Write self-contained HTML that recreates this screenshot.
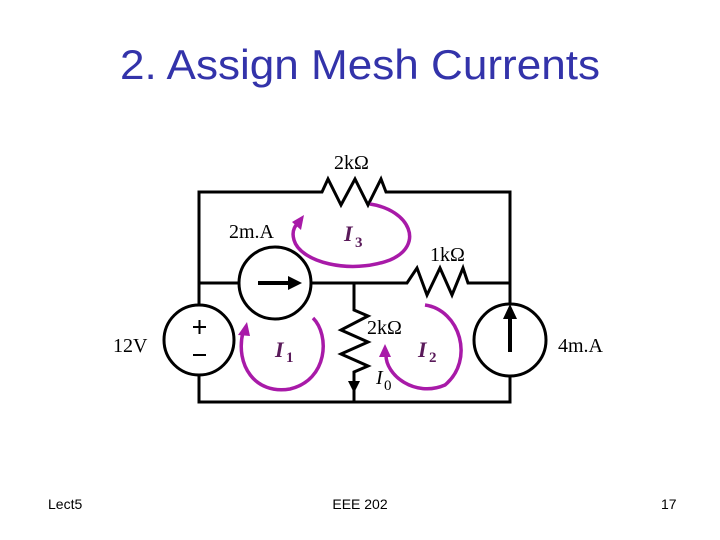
<!DOCTYPE html>
<html><head><meta charset="utf-8"><style>
body{margin:0;background:#fff;}
svg{display:block;}
</style></head><body>
<svg width="720" height="540" xmlns="http://www.w3.org/2000/svg">
<rect width="720" height="540" fill="#fff"/>
<text x="360" y="79" text-anchor="middle" font-family="Liberation Sans, sans-serif" font-size="42" fill="#3333aa" textLength="480" lengthAdjust="spacingAndGlyphs">2. Assign Mesh Currents</text>
<g stroke="#000" stroke-width="3" fill="none" stroke-linejoin="miter">
<polyline points="199,305 199,192 322,192 328,179 341,205 355,179 368,205 381,179 386,192 510,192 510,304"/>
<polyline points="199,283 239,283"/>
<polyline points="311,283 407,283 417,268 427,295 440,268 452,295 463,268 468,283 510,283"/>
<polyline points="354,283 354,310 368,316 341,330 368,342 341,354 368,366 354,372 354,402"/>
<polyline points="199,375 199,402 510,402 510,376"/>
<circle cx="199" cy="340" r="35"/>
<circle cx="275" cy="283" r="36"/>
<circle cx="510" cy="340" r="36"/>
<line x1="258" y1="283" x2="290" y2="283" stroke-width="4"/>
<line x1="510" y1="352" x2="510" y2="318" stroke-width="4"/>
</g>
<polygon points="302,283 288,276 288,290" fill="#000"/>
<polygon points="510,304 503,319 517,319" fill="#000"/>
<polygon points="354,393 348,381 360,381" fill="#000"/>
<line x1="193" y1="327" x2="206" y2="327" stroke="#000" stroke-width="2"/>
<line x1="199.5" y1="320" x2="199.5" y2="334" stroke="#000" stroke-width="2"/>
<line x1="193" y1="355" x2="206" y2="355" stroke="#000" stroke-width="2"/>
<g stroke="#a81aa8" stroke-width="3.5" fill="none">
<path d="M370,204 C410,210 425,245 390,260 C350,275 300,262 294,240 C291,230 296,224 300,222"/>
<path d="M313,318 C330,335 328,380 290,389 C255,395 235,365 243,332"/>
<path d="M425,305 C460,310 475,360 445,385 C415,398 385,375 386,354"/>
</g>
<g fill="#a81aa8">
<polygon points="304,215 292,222 301,230"/>
<polygon points="247,322 238,335 250,336"/>
<polygon points="385,344 379,357 391,357"/>
</g>
<g font-family="Liberation Serif, serif" font-size="20" fill="#000">
<text x="334" y="169">2kΩ</text>
<text x="229" y="238">2m.A</text>
<text x="430" y="261">1kΩ</text>
<text x="113" y="352">12V</text>
<text x="367" y="334">2kΩ</text>
<text x="558" y="352">4m.A</text>
<text x="376" y="384" font-style="italic">I</text><text x="384" y="390" font-size="15">0</text>
</g>
<g font-family="Liberation Serif, serif" font-size="22" font-weight="bold" font-style="italic" fill="#5a1a5a">
<text x="344" y="241">I</text><text x="355" y="247" font-size="15" font-style="normal">3</text>
<text x="275" y="357">I</text><text x="286" y="362" font-size="15" font-style="normal">1</text>
<text x="418" y="357">I</text><text x="429" y="362" font-size="15" font-style="normal">2</text>
</g>
<g font-family="Liberation Sans, sans-serif" font-size="14" fill="#000">
<text x="48" y="509">Lect5</text>
<text x="360" y="509" text-anchor="middle">EEE 202</text>
<text x="661" y="509">17</text>
</g>
</svg>
</body></html>
